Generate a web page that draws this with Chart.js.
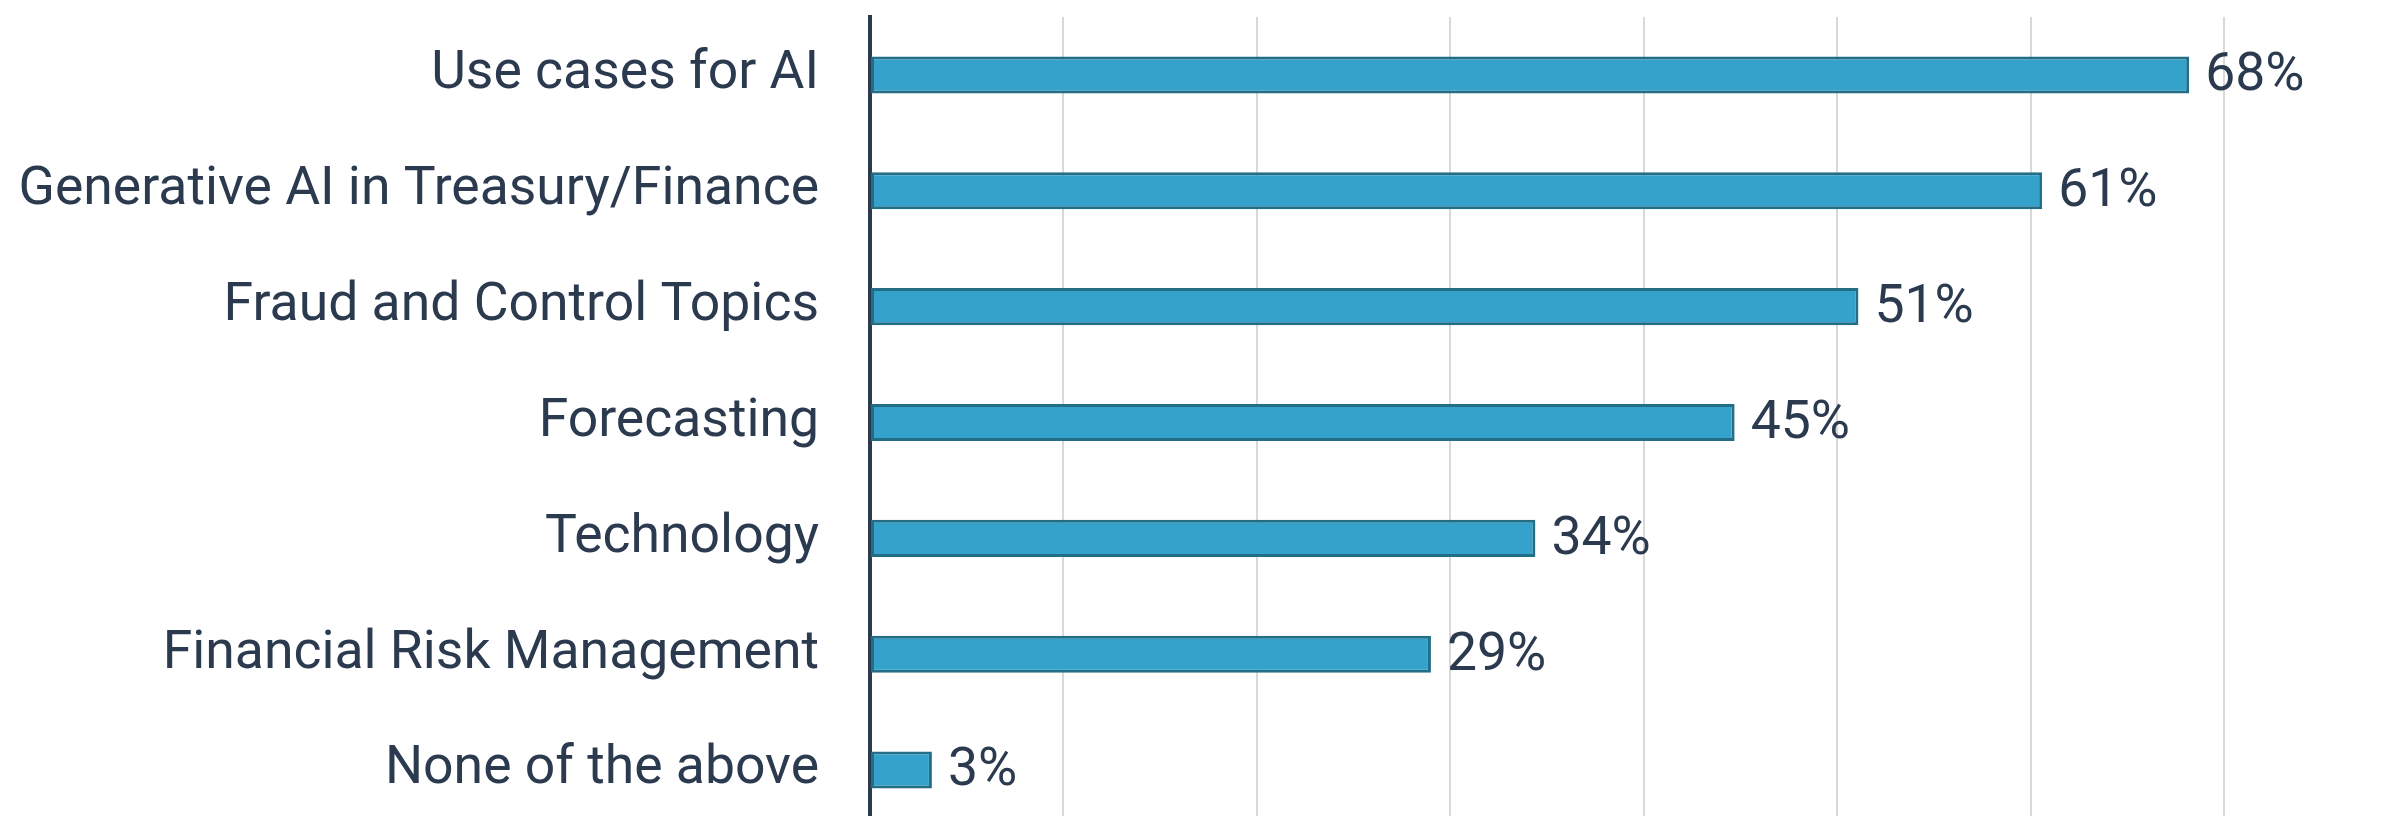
<!DOCTYPE html>
<html>
<head>
<meta charset="utf-8">
<script src="https://cdn.jsdelivr.net/npm/chart.js@4"></script>
<style>
  html, body { margin: 0; padding: 0; background: #fff; overflow: hidden; }
  #janela { width: 2384px; height: 816px; overflow: hidden; }
  /* a área do gráfico continua um pouco abaixo da borda da figura */
  #wrap { width: 2384px; height: 828px; }
</style>
</head>
<body>
<div id="janela"><div id="wrap"><canvas id="grafico"></canvas></div></div>
<script>
const categorias = [
  'Use cases for AI',
  'Generative AI in Treasury/Finance',
  'Fraud and Control Topics',
  'Forecasting',
  'Technology',
  'Financial Risk Management',
  'None of the above'
];
// comprimento das barras; o rótulo mostra o valor arredondado
const valores = [68.2, 60.6, 51.1, 44.7, 34.4, 29.0, 3.2];

const corTexto = '#2b3a4e';
const tamanhoFonte = 53.5;

// escreve o valor na ponta de cada barra
const rotulosBarras = {
  id: 'rotulosBarras',
  afterDatasetsDraw(chart) {
    const ctx = chart.ctx;
    ctx.save();
    ctx.font = tamanhoFonte + 'px Roboto';
    ctx.fillStyle = corTexto;
    ctx.textAlign = 'left';
    ctx.textBaseline = 'middle';
    chart.getDatasetMeta(0).data.forEach((bar, i) => {
      ctx.fillText(Math.round(valores[i]) + '%', bar.x + 16, bar.y + 2);
    });
    ctx.restore();
  }
};

new Chart(document.getElementById('grafico'), {
  type: 'bar',
  data: {
    labels: categorias,
    datasets: [{
      data: valores,
      backgroundColor: '#35a2cb',
      borderColor: '#236e87',
      borderWidth: 3,
      borderSkipped: false,
      categoryPercentage: 1,
      barPercentage: 0.32
    }]
  },
  options: {
    indexAxis: 'y',
    responsive: true,
    maintainAspectRatio: false,
    animation: false,
    layout: { padding: { top: 17, right: 160, left: 0, bottom: 0 } },
    scales: {
      x: {
        min: 0,
        max: 70,
        ticks: { display: false, stepSize: 10 },
        grid: { color: '#d9d9d9', lineWidth: 2, drawTicks: false },
        border: { display: false }
      },
      y: {
        // largura fixa e sem folga vertical extra por causa dos rótulos
        afterFit(scale) {
          scale.width = 870;
          scale.paddingTop = 0;
          scale.paddingBottom = 0;
        },
        ticks: {
          color: corTexto,
          font: { family: 'Roboto', size: tamanhoFonte },
          padding: 51
        },
        grid: { display: false, drawTicks: false },
        border: { display: true, color: corTexto, width: 4 }
      }
    },
    plugins: {
      legend: { display: false },
      tooltip: { enabled: false }
    }
  },
  plugins: [rotulosBarras]
});
</script>
</body>
</html>
